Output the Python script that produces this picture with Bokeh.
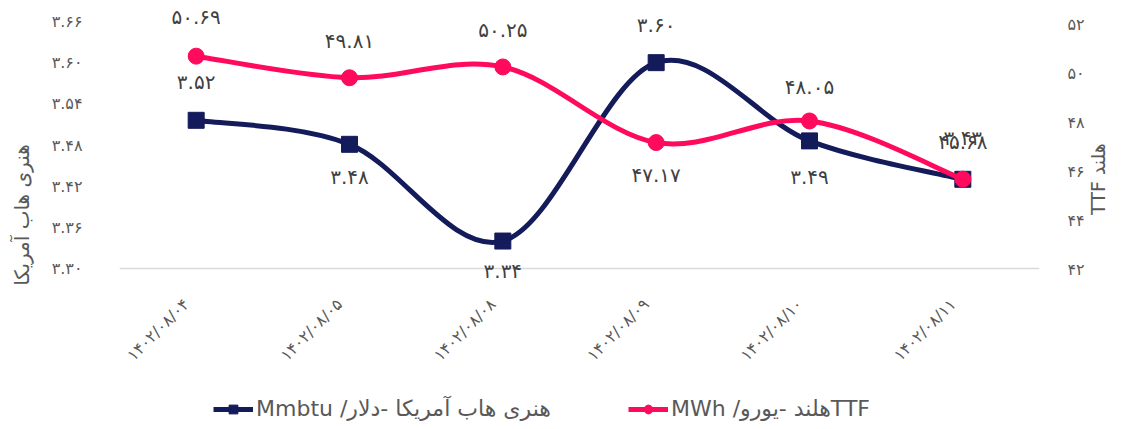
import math
from bokeh.plotting import figure
from bokeh.models import (Range1d, LinearAxis, FixedTicker, ColumnDataSource,
                          LabelSet, Legend, LegendItem, Span)
from bokeh.embed import file_html
from bokeh.resources import INLINE
from bokeh.core.properties import value

# ---------------- data ----------------
dates = ["۱۴۰۲/۰۸/۰۴", "۱۴۰۲/۰۸/۰۵", "۱۴۰۲/۰۸/۰۸",
         "۱۴۰۲/۰۸/۰۹", "۱۴۰۲/۰۸/۱۰", "۱۴۰۲/۰۸/۱۱"]
henry_hub = [3.516, 3.481, 3.34, 3.60, 3.486, 3.43]
ttf = [50.69, 49.81, 50.25, 47.17, 48.05, 45.68]
left_ticks = [3.30, 3.36, 3.42, 3.48, 3.54, 3.60, 3.66]
right_ticks = [42, 44, 46, 48, 50, 52]
henry_name = "Mmbtu /هنری هاب آمریکا -دلار"
ttf_name = "MWh /هلند -یوروTTF"
left_title = "هنری هاب آمریکا"
right_title = "TTF هلند"

# label offsets (style, px): positive = above the point
henry_label_off = [38, -33, -30, 38, -36, 41]
ttf_label_off = [39, 37, 37, -32, 34, 37]

NAVY = "#141B5B"
PINK = "#FF0A5C"
GREY = "#595959"
FONT = "DejaVu Sans"

FA = str.maketrans("0123456789", "۰۱۲۳۴۵۶۷۸۹")


def fa(v, nd):
    return format(round(v + 1e-9, nd), "." + str(nd) + "f").translate(FA)


xs = [i + 0.5 for i in range(len(dates))]


def bezier(xv, yv, k=1.0 / 6.0):
    n = len(xv)
    out = dict(x0=[], y0=[], x1=[], y1=[], cx0=[], cy0=[], cx1=[], cy1=[])
    for i in range(n - 1):
        a = i - 1 if i > 0 else i
        d = i + 2 if i + 2 < n else i + 1
        out["x0"].append(xv[i]); out["y0"].append(yv[i])
        out["x1"].append(xv[i + 1]); out["y1"].append(yv[i + 1])
        out["cx0"].append(xv[i] + (xv[i + 1] - xv[a]) * k)
        out["cy0"].append(yv[i] + (yv[i + 1] - yv[a]) * k)
        out["cx1"].append(xv[i + 1] - (xv[d] - xv[i]) * k)
        out["cy1"].append(yv[i + 1] - (yv[d] - yv[i]) * k)
    return out


# ---------------- figure ----------------
W, H = 1125, 429
# frame spans the full height; left ticks map to 21..268 px, right to 23.5..269 px
lpx = (left_ticks[-1] - left_ticks[0]) / 247.0
rpx = (right_ticks[-1] - right_ticks[0]) / 245.5
p = figure(width=W, height=H, output_backend="svg", toolbar_location=None,
           x_range=Range1d(0, len(dates)),
           y_range=Range1d(left_ticks[0] - (H - 268) * lpx, left_ticks[-1] + 21 * lpx),
           min_border_left=119, min_border_right=86,
           min_border_top=0, min_border_bottom=0)
p.extra_y_ranges = {"ttf": Range1d(right_ticks[0] - (H - 269) * rpx,
                                   right_ticks[-1] + 23.5 * rpx)}
p.outline_line_color = None
p.xgrid.visible = False
p.ygrid.visible = False
p.xaxis.visible = False
p.background_fill_color = "white"
p.border_fill_color = "white"

# baseline at bottom of value range
p.add_layout(Span(location=left_ticks[0], dimension="width",
                  line_color="#D9D9D9", line_width=1.3))

# category labels (rotated) under the baseline
cat_src = ColumnDataSource(dict(x=xs, y=[left_ticks[0]] * len(xs), t=dates))
p.add_layout(LabelSet(x="x", y="y", text="t", source=cat_src, angle=math.pi / 4,
                      x_offset=-10, y_offset=-33, text_align="right",
                      text_baseline="middle", text_font=value(FONT),
                      text_font_size="16px", text_color=GREY))

# left axis
ya = p.yaxis[0]
ya.ticker = FixedTicker(ticks=left_ticks)
ya.bounds = (left_ticks[0], left_ticks[-1])
ya.major_label_overrides = {t: fa(t, 2) for t in left_ticks}
ya.axis_line_color = None
ya.major_tick_line_color = None
ya.minor_tick_line_color = None
ya.major_label_text_font = FONT
ya.major_label_text_font_size = "16px"
ya.major_label_text_color = GREY
ya.major_label_standoff = 31
ya.axis_label = left_title
ya.axis_label_text_font = FONT
ya.axis_label_text_font_style = "normal"
ya.axis_label_text_font_size = "20px"
ya.axis_label_text_color = GREY
ya.axis_label_standoff = 15

# right axis
ra = LinearAxis(y_range_name="ttf")
ra.ticker = FixedTicker(ticks=right_ticks)
ra.bounds = (right_ticks[0], right_ticks[-1])
ra.major_label_overrides = {t: fa(t, 0) for t in right_ticks}
ra.axis_line_color = None
ra.major_tick_line_color = None
ra.minor_tick_line_color = None
ra.major_label_text_font = FONT
ra.major_label_text_font_size = "16px"
ra.major_label_text_color = GREY
ra.major_label_standoff = 22
ra.axis_label = right_title
ra.axis_label_text_font = FONT
ra.axis_label_text_font_style = "normal"
ra.axis_label_text_font_size = "19px"
ra.axis_label_text_color = GREY
ra.axis_label_standoff = 10
try:
    ra.axis_label_orientation = math.pi / 2
except Exception:
    pass
p.add_layout(ra, "right")

# ---------------- series ----------------
hb = ColumnDataSource(bezier(xs, henry_hub))
tb = ColumnDataSource(bezier(xs, ttf))

h_line = p.bezier(x0="x0", y0="y0", x1="x1", y1="y1", cx0="cx0", cy0="cy0",
                  cx1="cx1", cy1="cy1", source=hb, line_color=NAVY, line_width=5)
h_pts = p.scatter(xs, henry_hub, marker="square", size=16,
                  fill_color=NAVY, line_color=NAVY)

t_line = p.bezier(x0="x0", y0="y0", x1="x1", y1="y1", cx0="cx0", cy0="cy0",
                  cx1="cx1", cy1="cy1", source=tb, line_color=PINK, line_width=5,
                  y_range_name="ttf")
t_pts = p.scatter(xs, ttf, marker="circle", size=16, fill_color=PINK,
                  line_color=PINK, y_range_name="ttf")

# data labels
hl = ColumnDataSource(dict(x=xs, y=henry_hub,
                           t=[fa(v, 2) for v in henry_hub], o=henry_label_off))
tl = ColumnDataSource(dict(x=xs, y=ttf,
                           t=[fa(v, 2) for v in ttf], o=ttf_label_off))
for src, yr in ((hl, "default"), (tl, "ttf")):
    p.add_layout(LabelSet(x="x", y="y", text="t", y_offset="o", source=src,
                          y_range_name=yr, text_align="center",
                          text_baseline="middle", text_font=value(FONT),
                          text_font_size="20px", text_color="#404040"))

# legends at the bottom
for item, loc in ((LegendItem(label=henry_name, renderers=[h_line, h_pts]), (94, 8)),
                  (LegendItem(label=ttf_name, renderers=[t_line, t_pts]), (509, 8))):
    p.add_layout(Legend(items=[item], location=loc, orientation="horizontal",
                        padding=0, margin=0, border_line_alpha=0,
                        background_fill_alpha=0, glyph_width=40, glyph_height=22,
                        label_standoff=3, label_text_font=FONT,
                        label_text_font_size="22px", label_text_color=GREY))

open("out.html", "w").write(file_html(p, INLINE))
